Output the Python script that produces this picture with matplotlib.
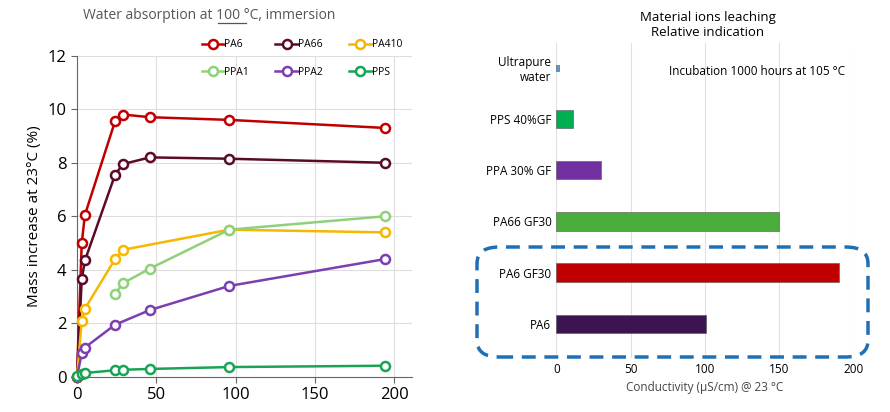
import numpy as np
import matplotlib.pyplot as plt
from matplotlib.patches import FancyBboxPatch
from matplotlib.lines import Line2D

# water absorption data (hours, mass %)
pa6_x = [0, 3, 5, 24, 29, 46, 96, 194]
pa6_y = [0, 5.0, 6.05, 9.55, 9.8, 9.7, 9.6, 9.3]
pa66_x = [0, 3, 5, 24, 29, 46, 96, 194]
pa66_y = [0, 3.65, 4.35, 7.55, 7.95, 8.2, 8.15, 8.0]
pa410_x = [0, 3, 5, 24, 29, 96, 194]
pa410_y = [0, 2.1, 2.55, 4.4, 4.75, 5.5, 5.4]
ppa1_x = [24, 29, 46, 96, 194]
ppa1_y = [3.1, 3.5, 4.05, 5.5, 6.0]
ppa2_x = [0, 3, 5, 24, 46, 96, 194]
ppa2_y = [0, 0.9, 1.1, 1.95, 2.5, 3.4, 4.4]
pps_x = [0, 3, 5, 24, 29, 46, 96, 194]
pps_y = [0.05, 0.1, 0.15, 0.25, 0.27, 0.3, 0.37, 0.42]

# ion leaching data
materials = ["Ultrapure\nwater", "PPS 40%GF", "PPA 30% GF", "PA66 GF30", "PA6 GF30", "PA6"]
conductivity = [2, 11, 30, 150, 190, 101]
bar_colors = ["#5b9bd5", "#00b050", "#7030a0", "#4aad3b", "#c00000", "#3c1450"]

plt.rcParams["font.family"] = ["Open Sans", "DejaVu Sans"]
fig = plt.figure(figsize=(8.9, 4.12), dpi=100)

# --- left chart
ax = fig.add_axes([0.0865, 0.085, 0.376, 0.78])
series = [
    ("PA6", pa6_x, pa6_y, "#c00000"),
    ("PA66", pa66_x, pa66_y, "#5c0a2a"),
    ("PA410", pa410_x, pa410_y, "#f5b800"),
    ("PPA1", ppa1_x, ppa1_y, "#8fd17a"),
    ("PPA2", ppa2_x, ppa2_y, "#7b3fb0"),
    ("PPS", pps_x, pps_y, "#1aa355"),
]
lines = {}
for name, xs, ys, c in series:
    lines[name], = ax.plot(xs, ys, "-o", color=c, lw=1.8, ms=6.5, mfc="white",
                           mew=1.8, label=name, clip_on=False, zorder=3)
ax.set_xlim(0, 211)
ax.set_ylim(0, 12)
ax.set_xticks([0, 50, 100, 150, 200])
ax.set_yticks(range(0, 13, 2))
ax.grid(color="#dddddd", lw=0.8)
ax.set_axisbelow(True)
for s in ["top", "right"]:
    ax.spines[s].set_visible(False)
ax.spines["left"].set_color("#666666")
ax.spines["bottom"].set_color("#666666")
ax.tick_params(labelsize=12, length=4, color="#666666")
ax.set_ylabel("Mass increase at 23°C (%)", fontsize=11)
# matplotlib fills legend columns first, so order handles to read row-wise
order = ["PA6", "PPA1", "PA66", "PPA2", "PA410", "PPS"]
ax.legend([lines[n] for n in order], order, ncol=3, loc="upper right",
          bbox_to_anchor=(1.0, 1.08), frameon=False, fontsize=7.5,
          handlelength=2.2, columnspacing=2.5, labelspacing=1.6,
          handletextpad=0.0)
fig.text(0.235, 0.955, "Water absorption at 100 °C, immersion",
         ha="center", fontsize=10, color="#555555")
# underline under "100" in the title
fig.add_artist(Line2D([0.2455, 0.2765], [0.945, 0.945], color="#555555", lw=0.9))

# --- right chart
ax2 = fig.add_axes([0.625, 0.131, 0.334, 0.765])
ypos = np.arange(len(materials))
heights = [0.12, 0.36, 0.36, 0.36, 0.36, 0.36]
ax2.barh(ypos, conductivity, height=heights, color=bar_colors, edgecolor="#555555", linewidth=0.4)
ax2.set_yticks(ypos)
ax2.set_yticklabels(materials, fontsize=8.5)
ax2.set_ylim(5.67, -0.49)
ax2.set_xlim(0, 200)
ax2.set_xticks([0, 50, 100, 150, 200])
ax2.tick_params(labelsize=8.5, length=0)
ax2.grid(axis="x", color="#e0e0e0", lw=0.8)
ax2.set_axisbelow(True)
for s in ax2.spines.values():
    s.set_visible(False)
ax2.set_xlabel("Conductivity (μS/cm) @ 23 °C", fontsize=8.5, color="#444444")
ax2.text(0.97, 0.91, "Incubation 1000 hours at 105 °C", transform=ax2.transAxes,
         fontsize=8.5, ha="right", va="center")
fig.text(0.795, 0.94, "Material ions leaching\nRelative indication", ha="center",
         va="center", fontsize=9.5, linespacing=1.2)

box = FancyBboxPatch((477 / 890, 55 / 412), 391 / 890, 110 / 412,
                     boxstyle="round,pad=0,rounding_size=0.025",
                     transform=fig.transFigure, fill=False, ec="#1f6fb4",
                     lw=2.5, ls=(0, (4, 2.5)), mutation_aspect=1.6)
fig.patches.append(box)

fig.savefig("out.png", dpi=100)
